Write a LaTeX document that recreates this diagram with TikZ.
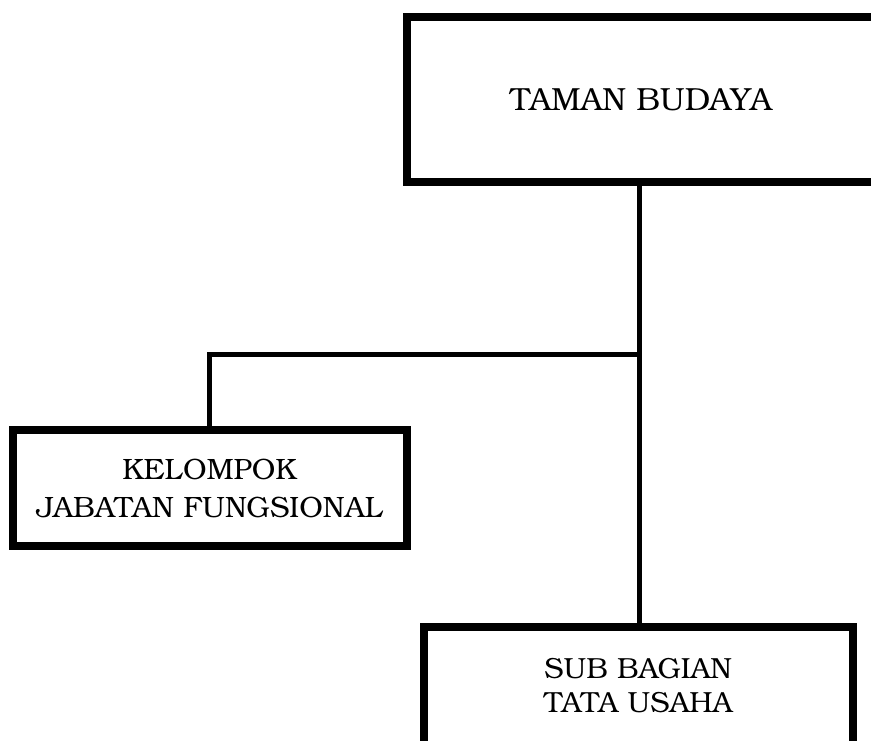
\documentclass[tikz,border=0pt]{standalone}
\usepackage{fontspec}
\setmainfont{TeX Gyre Bonum}
\begin{document}
\begin{tikzpicture}[x=1pt,y=-1pt,
  orgbox/.style={draw=black, line width=8pt, fill=white, inner sep=0pt, outer sep=0pt, align=center, text=black},
  link/.style={draw=black, line width=5pt}]
\useasboundingbox (0,0) rectangle (871,740);
\clip (0,0) rectangle (871,740);
\node[orgbox, minimum width=468pt, minimum height=165pt, font=\fontsize{32pt}{40pt}\selectfont] (top) at (641,99.5) {TAMAN BUDAYA};
\node[orgbox, minimum width=394pt, minimum height=116pt, font=\fontsize{29.4pt}{38pt}\selectfont] (kel) at (209.5,488) {KELOMPOK\\JABATAN FUNGSIONAL};
\node[orgbox, minimum width=429.5pt, minimum height=118pt, font=\fontsize{29.1pt}{34pt}\selectfont] (sub) at (638.25,686) {SUB BAGIAN\\TATA USAHA};
\coordinate (j) at (639,354.5);
\draw[link] (j |- top.south) -- (j |- sub.north);
\draw[link] (j) -| (kel.north);
\end{tikzpicture}
\end{document}
